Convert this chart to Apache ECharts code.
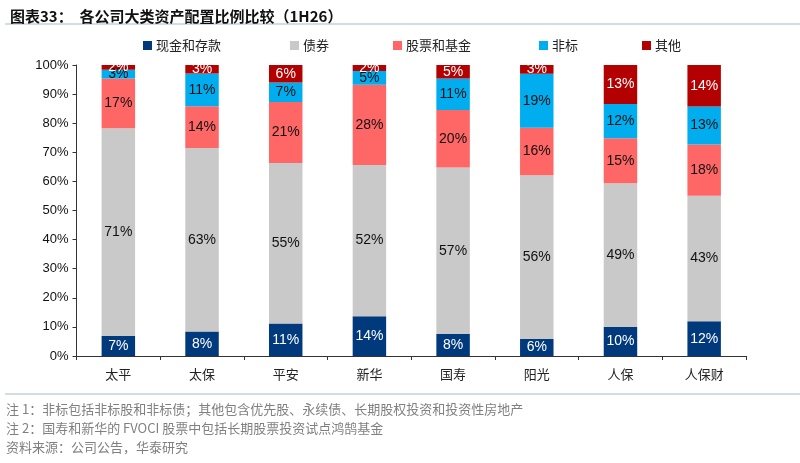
<!DOCTYPE html>
<html><head><meta charset="utf-8">
<script src="https://cdn.jsdelivr.net/npm/echarts@6/dist/echarts.min.js"></script>
<style>html,body{margin:0;padding:0;background:#fff}#c{width:800px;height:463px}</style>
</head><body><div id="c"></div>
<script>
const categories = ['太平','太保','平安','新华','国寿','阳光','人保','人保财'];
const cashDeposits = [6.9, 8.4, 11.2, 13.7, 7.6, 5.8, 10.0, 11.9];
const bonds        = [71.4, 63.1, 55.1, 51.9, 57.2, 56.3, 49.4, 43.2];
const stocksFunds  = [17.1, 14.3, 21.0, 27.6, 19.7, 16.3, 15.4, 17.6];
const nonStandard  = [3.0, 11.3, 6.7, 4.7, 10.9, 18.6, 11.8, 13.0];
const others       = [1.6, 2.9, 6.0, 2.1, 4.6, 3.0, 13.4, 14.3];
const yTicks = ['0%','10%','20%','30%','40%','50%','60%','70%','80%','90%','100%'];
const seriesNames = ['现金和存款','债券','股票和基金','非标','其他'];

const chart = echarts.init(document.getElementById('c'));
const cjk = '"Noto Sans CJK SC", sans-serif';
const lat = '"Liberation Sans", Arial, sans-serif';
const colors = ['#003a7d','#c9c9c9','#ff6666','#00aeef','#b30000'];
const labelColors = ['#ffffff','#111111','#111111','#111111','#ffffff'];
const dataSets = [cashDeposits, bonds, stocksFunds, nonStandard, others];
const legendLeft = [138, 285, 388, 534, 637];

chart.setOption({
  animation: false,
  title: {
    text: '图表33：  各公司大类资产配置比例比较（1H26）',
    left: 5, top: 4,
    textStyle: { fontFamily: cjk, fontSize: 15, fontWeight: 'bold', color: '#111' }
  },
  legend: seriesNames.map((n, i) => ({
    data: [n], left: legendLeft[i], top: 34,
    itemWidth: 9, itemHeight: 9, itemGap: 4, icon: 'rect',
    textStyle: { fontFamily: cjk, fontSize: 13, color: '#222', padding: [0,0,0,-1] }
  })),
  graphic: [
    { type: 'line', shape: { x1: 5, y1: 24, x2: 800, y2: 24 }, style: { stroke: '#a9bacb', lineWidth: 1.2 } },
    { type: 'line', shape: { x1: 5, y1: 394, x2: 800, y2: 394 }, style: { stroke: '#a9bacb', lineWidth: 1.2 } },
    { type: 'text', left: 6, top: 403, style: { text: '注 1：非标包括非标股和非标债；其他包含优先股、永续债、长期股权投资和投资性房地产', fontFamily: cjk, fontSize: 13, fill: '#808080' } },
    { type: 'text', left: 6, top: 422, style: { text: '注 2：国寿和新华的 FVOCI 股票中包括长期股票投资试点鸿鹄基金', fontFamily: cjk, fontSize: 13, fill: '#808080' } },
    { type: 'text', left: 6, top: 441, style: { text: '资料来源：公司公告，华泰研究', fontFamily: cjk, fontSize: 13, fill: '#808080' } }
  ],
  grid: { left: 76.5, right: 54, top: 65, bottom: 107, containLabel: false },
  xAxis: {
    type: 'category', data: categories, boundaryGap: true,
    axisLine: { lineStyle: { color: '#333', width: 1 } },
    axisTick: { show: true, length: 4, alignWithLabel: false, lineStyle: { color: '#333' } },
    axisLabel: { fontFamily: cjk, fontSize: 13, color: '#222', margin: 12 }
  },
  yAxis: {
    type: 'value', min: 0, max: 100, interval: 10,
    splitLine: { show: false },
    axisLine: { show: true, lineStyle: { color: '#333', width: 1 } },
    axisTick: { show: true, length: 4, lineStyle: { color: '#333' } },
    axisLabel: { fontFamily: lat, fontSize: 13, color: '#111', margin: 8,
      formatter: v => yTicks[Math.round(v / 10)] }
  },
  series: seriesNames.map((n, i) => ({
    name: n, type: 'bar', stack: 'total', barWidth: '40%',
    data: dataSets[i],
    itemStyle: { color: colors[i] },
    label: {
      show: true, position: 'inside', color: labelColors[i],
      fontFamily: lat, fontSize: 14,
      formatter: p => Math.round(p.value) + '%'
    }
  }))
});
</script></body></html>
